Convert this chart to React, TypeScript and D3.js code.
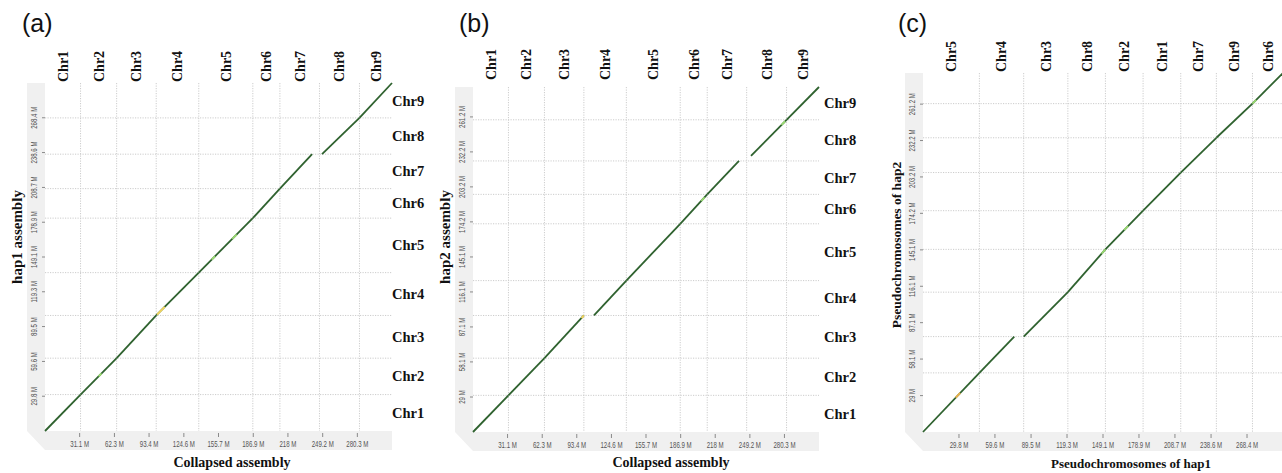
import React from "react";
import * as d3 from "d3";

const chromNames = ["Chr1", "Chr2", "Chr3", "Chr4", "Chr5", "Chr6", "Chr7", "Chr8", "Chr9"];
// chromosome lengths, Mb
const collapsedLen = [31.9, 32.4, 35.5, 38.2, 48.5, 24.3, 35.5, 35.9, 29.2];
const hap1Len = [31.2, 31.2, 36.6, 36.7, 46.7, 25.3, 29.5, 31.1, 29.9];
const hap2Len = [30.4, 30.8, 35.4, 28.9, 47.1, 24.4, 27.7, 34.1, 27.2];
// order of the pseudochromosomes in panel (c)
const orderC = ["Chr5", "Chr4", "Chr3", "Chr8", "Chr2", "Chr1", "Chr7", "Chr9", "Chr6"];

const collapsedTicks = [31.1, 62.3, 93.4, 124.6, 155.7, 186.9, 218, 249.2, 280.3];
const hap1Ticks = [29.8, 59.6, 89.5, 119.3, 149.1, 178.9, 208.7, 238.6, 268.4];
const hap2Ticks = [29, 58.1, 87.1, 116.1, 145.1, 174.2, 203.2, 232.2, 261.2];

// unaligned chromosome ends (Mb): x0/x1 start/end on x, y0/y1 start/end on y
const gapsA = [{ chr: "Chr7", x1: 6.6 }, { chr: "Chr8", x0: 2.3 }];
const gapsB = [{ chr: "Chr4", x0: 9.1 }, { chr: "Chr7", x1: 6.9 }, { chr: "Chr8", x0: 3.9, y0: 4.2 }];
const gapsC = [{ chr: "Chr4", x1: 7.8 }];

// coloured stretches along the diagonal (fraction of the chromosome)
const tintsA = [
  { chr: "Chr2", f0: 0.5, f1: 0.58, color: "#9ad873" },
  { chr: "Chr4", f0: 0.02, f1: 0.2, color: "#f2d35c" },
  { chr: "Chr5", f0: 0.24, f1: 0.3, color: "#9ad873" },
  { chr: "Chr5", f0: 0.62, f1: 0.7, color: "#9ad873" },
];
const tintsB = [
  { chr: "Chr3", f0: 0.94, f1: 1, color: "#f2d35c" },
  { chr: "Chr6", f0: 0.78, f1: 0.9, color: "#9ad873" },
  { chr: "Chr8", f0: 0.86, f1: 0.96, color: "#9ad873" },
];
const tintsC = [
  { chr: "Chr5", f0: 0.58, f1: 0.66, color: "#e8b04a" },
  { chr: "Chr8", f0: 0.9, f1: 1, color: "#9ad873" },
  { chr: "Chr2", f0: 0.5, f1: 0.6, color: "#9ad873" },
  { chr: "Chr6", f0: 0.0, f1: 0.12, color: "#9ad873" },
];

const serif = "'Liberation Serif', 'Times New Roman', serif";
const sans = "'Liberation Sans', Arial, sans-serif";

const cumsum = (arr: number[]) => {
  const c = [0];
  arr.forEach((v) => c.push(c[c.length - 1] + v));
  return c;
};

const pick = (order: string[], lens: number[]) => order.map((n) => lens[chromNames.indexOf(n)]);

const Panel = ({ cfg }: { cfg: any }) => {
  const { box, xChr, xLen, yChr, yLen, xTicks, yTicks, gaps, tints } = cfg;
  const xCum = cumsum(xLen);
  const yCum = cumsum(yLen);
  const x = d3.scaleLinear().domain([0, d3.sum(xLen)]).range([box.left, box.right]);
  const y = d3.scaleLinear().domain([0, d3.sum(yLen)]).range([box.bottom, box.top]);

  const segs = xChr.map((name: string, i: number) => {
    const j = yChr.indexOf(name);
    const g = gaps.find((d: any) => d.chr === name) || {};
    return {
      name,
      x0: xCum[i] + (g.x0 || 0),
      x1: xCum[i + 1] - (g.x1 || 0),
      y0: yCum[j] + (g.y0 || 0),
      y1: yCum[j + 1] - (g.y1 || 0),
    };
  });

  const band = 18;
  const depth = 19;
  const frame = [
    [box.left - band, box.top],
    [box.left, box.top],
    [box.left, box.bottom],
    [box.right, box.bottom],
    [box.right, box.bottom + depth],
    [box.left, box.bottom + depth],
    [box.left - band, box.bottom],
  ]
    .map((p) => p.join(","))
    .join(" ");

  return (
    <g>
      <polygon points={frame} fill="#f0f0f0" />
      {/* chromosome grid */}
      {xCum.slice(1, -1).map((v, i) => (
        <line key={"gx" + i} x1={x(v)} x2={x(v)} y1={box.top} y2={box.bottom}
          stroke="#cccccc" strokeWidth={1} strokeDasharray="1.2 1.3" />
      ))}
      {yCum.slice(1, -1).map((v, i) => (
        <line key={"gy" + i} x1={box.left} x2={box.right} y1={y(v)} y2={y(v)}
          stroke="#cccccc" strokeWidth={1} strokeDasharray="1.2 1.3" />
      ))}
      {/* alignments */}
      {segs.map((s: any) => (
        <line key={"s" + s.name} x1={x(s.x0)} y1={y(s.y0)} x2={x(s.x1)} y2={y(s.y1)}
          stroke="#2f622f" strokeWidth={1.8} />
      ))}
      {tints.map((t: any, i: number) => {
        const s = segs.find((d: any) => d.name === t.chr);
        const ix = d3.interpolateNumber(s.x0, s.x1);
        const iy = d3.interpolateNumber(s.y0, s.y1);
        return (
          <line key={"t" + i} x1={x(ix(t.f0))} y1={y(iy(t.f0))} x2={x(ix(t.f1))} y2={y(iy(t.f1))}
            stroke={t.color} strokeWidth={1.9} />
        );
      })}
      {/* x ticks */}
      {xTicks.map((v: number) => (
        <g key={"xt" + v}>
          <line x1={x(v)} x2={x(v)} y1={box.bottom + 2} y2={box.bottom + 6} stroke="#8a8a8a" strokeWidth={1} />
          <text transform={`translate(${x(v)},${box.bottom + 16}) scale(0.68,1)`} textAnchor="middle"
            fontFamily={sans} fontSize={9} fill="#555">{`${v} M`}</text>
        </g>
      ))}
      {/* y ticks */}
      {yTicks.map((v: number) => (
        <g key={"yt" + v}>
          <line x1={box.left - 3} x2={box.left} y1={y(v)} y2={y(v)} stroke="#8a8a8a" strokeWidth={1} />
          <text transform={`translate(${box.left - 8},${y(v)}) rotate(-90) scale(0.68,1)`} textAnchor="middle"
            fontFamily={sans} fontSize={9} fill="#555">{`${v} M`}</text>
        </g>
      ))}
      {/* chromosome names */}
      {xChr.map((n: string, i: number) => (
        <text key={"tn" + n} transform={`translate(${x((xCum[i] + xCum[i + 1]) / 2)},${box.top - cfg.topGap}) rotate(-90)`}
          dy="0.35em" fontFamily={serif} fontWeight="bold" fontSize={14} fill="#111">{n}</text>
      ))}
      {cfg.showRight &&
        yChr.map((n: string, i: number) => (
          <text key={"rn" + n} x={box.right + cfg.rightDx} y={y((yCum[i] + yCum[i + 1]) / 2)} dy="0.35em"
            fontFamily={serif} fontWeight="bold" fontSize={14.5} fill="#111">{n}</text>
        ))}
      <text x={cfg.xTitle[0]} y={cfg.xTitle[1]} textAnchor="middle" fontFamily={serif} fontWeight="bold"
        fontSize={cfg.xTitleSize} fill="#111">{cfg.xLabel}</text>
      <text transform={`translate(${cfg.yTitle[0]},${cfg.yTitle[1]}) rotate(-90)`} textAnchor="middle"
        fontFamily={serif} fontWeight="bold" fontSize={cfg.yTitleSize} fill="#111">{cfg.yLabel}</text>
      <text x={cfg.tag[0]} y={cfg.tag[1]} fontFamily={sans} fontSize={25} fill="#111">{cfg.tagText}</text>
    </g>
  );
};

const panels = [
  {
    box: { left: 45, right: 392, top: 83, bottom: 431 },
    xChr: chromNames, xLen: collapsedLen, yChr: chromNames, yLen: hap1Len,
    xTicks: collapsedTicks, yTicks: hap1Ticks, gaps: gapsA, tints: tintsA,
    topGap: 1, showRight: true, rightDx: 0,
    xLabel: "Collapsed assembly", xTitle: [232, 467], xTitleSize: 14,
    yLabel: "hap1 assembly", yTitle: [22, 237], yTitleSize: 15,
    tagText: "(a)", tag: [22, 32],
  },
  {
    box: { left: 473, right: 819, top: 87, bottom: 432 },
    xChr: chromNames, xLen: collapsedLen, yChr: chromNames, yLen: hap2Len,
    xTicks: collapsedTicks, yTicks: hap2Ticks, gaps: gapsB, tints: tintsB,
    topGap: 7, showRight: true, rightDx: 5,
    xLabel: "Collapsed assembly", xTitle: [671, 467], xTitleSize: 14,
    yLabel: "hap2 assembly", yTitle: [450, 237], yTitleSize: 15,
    tagText: "(b)", tag: [459, 32],
  },
  {
    box: { left: 923, right: 1283, top: 73, bottom: 432 },
    xChr: orderC, xLen: pick(orderC, hap1Len), yChr: orderC, yLen: pick(orderC, hap2Len),
    xTicks: hap1Ticks, yTicks: hap2Ticks, gaps: gapsC, tints: tintsC,
    topGap: 1, showRight: false, rightDx: 0,
    xLabel: "Pseudochromosomes of hap1", xTitle: [1131, 468], xTitleSize: 13,
    yLabel: "Pseudochromosomes of hap2", yTitle: [901, 245], yTitleSize: 13.5,
    tagText: "(c)", tag: [898, 32],
  },
];

export default function App() {
  return (
    <svg width={1282} height={473} style={{ position: "absolute", left: 0, top: 0, background: "#fff" }}>
      {panels.map((p, i) => (
        <Panel key={i} cfg={p} />
      ))}
    </svg>
  );
}
